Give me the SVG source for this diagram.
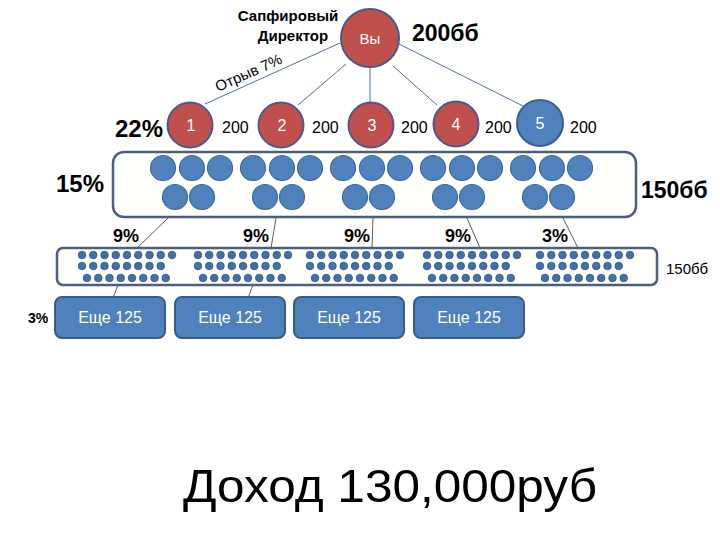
<svg xmlns="http://www.w3.org/2000/svg" xmlns:xlink="http://www.w3.org/1999/xlink" width="720" height="540" viewBox="0 0 720 540">
<style>
text{font-family:"Liberation Sans",Arial,sans-serif;fill:#000}
.b{font-weight:bold}
.w{fill:#fff}
.red{fill:#c0504d;stroke:#4a5a8c;stroke-width:2}
.blue{fill:#4f81bd;stroke:#3a5f91;stroke-width:2}
.sm{fill:#4f81bd;stroke:#3e6aa3;stroke-width:1.2}
.dot{fill:#4470a8;stroke:#2f5587;stroke-width:0.8}
.frame{fill:#fffffb;stroke:#4a5f80;stroke-width:2.5}
.box{fill:#4f81bd;stroke:#385d8a;stroke-width:2}
.ln{stroke:#4f6f9f;stroke-width:1;fill:none}
.ln2{stroke:#333;stroke-width:0.8;fill:none}
</style>
<defs>
<g id="five">
<circle class="sm" cx="0" cy="168" r="12.5"/><circle class="sm" cx="29" cy="168" r="12.5"/><circle class="sm" cx="57" cy="168" r="12.5"/>
<circle class="sm" cx="12" cy="197" r="12.5"/><circle class="sm" cx="39" cy="197" r="12.5"/>
</g>
<g id="row9"><circle class="dot" cx="0" cy="0" r="3.8"/><circle class="dot" cx="11.25" cy="0" r="3.8"/><circle class="dot" cx="22.5" cy="0" r="3.8"/><circle class="dot" cx="33.75" cy="0" r="3.8"/><circle class="dot" cx="45" cy="0" r="3.8"/><circle class="dot" cx="56.25" cy="0" r="3.8"/><circle class="dot" cx="67.5" cy="0" r="3.8"/><circle class="dot" cx="78.75" cy="0" r="3.8"/></g>
<g id="dots">
<use xlink:href="#row9" y="255"/><circle class="dot" cx="90" cy="255" r="3.8"/>
<use xlink:href="#row9" y="266"/>
<use xlink:href="#row9" x="5" y="278"/>
</g>
</defs>

<g id="connectors">
<line class="ln" x1="340" y1="43" x2="205" y2="104"/>
<line class="ln" x1="346" y1="64" x2="298" y2="105"/>
<line class="ln" x1="370" y1="67" x2="370" y2="102"/>
<line class="ln" x1="393" y1="66" x2="437" y2="105"/>
<line class="ln" x1="399" y1="44" x2="527" y2="108"/>
<line class="ln2" x1="168" y1="218" x2="137" y2="248"/>
<line class="ln2" x1="276" y1="218" x2="271" y2="248"/>
<line class="ln2" x1="373" y1="218" x2="372" y2="248"/>
<line class="ln2" x1="467" y1="218" x2="480" y2="248"/>
<line class="ln2" x1="563" y1="218" x2="578" y2="248"/>
<line class="ln2" x1="118" y1="285" x2="113" y2="298"/>
<line class="ln2" x1="253" y1="285" x2="248" y2="298"/>
</g>

<g id="top">
<text class="b" x="288" y="21" font-size="15" text-anchor="middle">Сапфировый</text>
<text class="b" x="293" y="41" font-size="15" text-anchor="middle">Директор</text>
<circle class="red" cx="370" cy="38" r="29"/>
<text class="w" x="370" y="44" font-size="15" text-anchor="middle">Вы</text>
<text class="b" x="412" y="41" font-size="23">200бб</text>
<text x="0" y="0" font-size="15" transform="translate(218,92) rotate(-24)">Отрыв 7%</text>
</g>

<g id="level1">
<text class="b" x="115" y="137" font-size="24">22%</text>
<g id="n1"><circle class="red" cx="190" cy="125" r="22.5"/><text class="w" x="191" y="131" font-size="16" text-anchor="middle">1</text></g>
<g id="n2"><circle class="red" cx="281" cy="125" r="22.5"/><text class="w" x="282" y="131" font-size="16" text-anchor="middle">2</text></g>
<g id="n3"><circle class="red" cx="371" cy="125" r="22.5"/><text class="w" x="372" y="131" font-size="16" text-anchor="middle">3</text></g>
<g id="n4"><circle class="red" cx="456" cy="124" r="22.5"/><text class="w" x="456" y="130" font-size="16" text-anchor="middle">4</text></g>
<g id="n5"><circle class="blue" cx="540" cy="123" r="23"/><text class="w" x="540" y="129" font-size="16" text-anchor="middle">5</text></g>
<text x="222" y="133" font-size="16">200</text>
<text x="312" y="133" font-size="16">200</text>
<text x="401" y="133" font-size="16">200</text>
<text x="485" y="133" font-size="16">200</text>
<text x="570" y="133" font-size="16">200</text>
</g>

<g id="level2">
<rect class="frame" x="113" y="152" width="523" height="65" rx="11"/>
<use xlink:href="#five" x="163"/>
<use xlink:href="#five" x="253"/>
<use xlink:href="#five" x="343"/>
<use xlink:href="#five" x="433"/>
<use xlink:href="#five" x="523"/>
<text class="b" x="56" y="192" font-size="24">15%</text>
<text class="b" x="641" y="198" font-size="23">150бб</text>
</g>

<g id="pct">
<text class="b" x="113" y="242" font-size="18">9%</text>
<text class="b" x="243" y="242" font-size="18">9%</text>
<text class="b" x="344" y="242" font-size="18">9%</text>
<text class="b" x="445" y="242" font-size="18">9%</text>
<text class="b" x="542" y="242" font-size="18">3%</text>
</g>

<g id="level3">
<rect class="frame" x="57" y="248" width="600" height="37" rx="6"/>
<use xlink:href="#dots" x="82"/>
<use xlink:href="#dots" x="198"/>
<use xlink:href="#dots" x="310"/>
<use xlink:href="#dots" x="427"/>
<use xlink:href="#dots" x="540"/>
<text x="666" y="274" font-size="15">150бб</text>
</g>

<g id="level4">
<text class="b" x="28" y="323" font-size="14">3%</text>
<g id="b1"><rect class="box" x="55" y="297" width="110" height="41" rx="7"/><text class="w" x="110" y="323" font-size="16" text-anchor="middle">Еще 125</text></g>
<g id="b2"><rect class="box" x="175" y="297" width="110" height="41" rx="7"/><text class="w" x="230" y="323" font-size="16" text-anchor="middle">Еще 125</text></g>
<g id="b3"><rect class="box" x="294" y="297" width="110" height="41" rx="7"/><text class="w" x="349" y="323" font-size="16" text-anchor="middle">Еще 125</text></g>
<g id="b4"><rect class="box" x="414" y="297" width="110" height="41" rx="7"/><text class="w" x="469" y="323" font-size="16" text-anchor="middle">Еще 125</text></g>
</g>

<g id="income">
<text x="183" y="502" font-size="47" textLength="414" lengthAdjust="spacingAndGlyphs">Доход 130,000руб</text>
</g>
</svg>
